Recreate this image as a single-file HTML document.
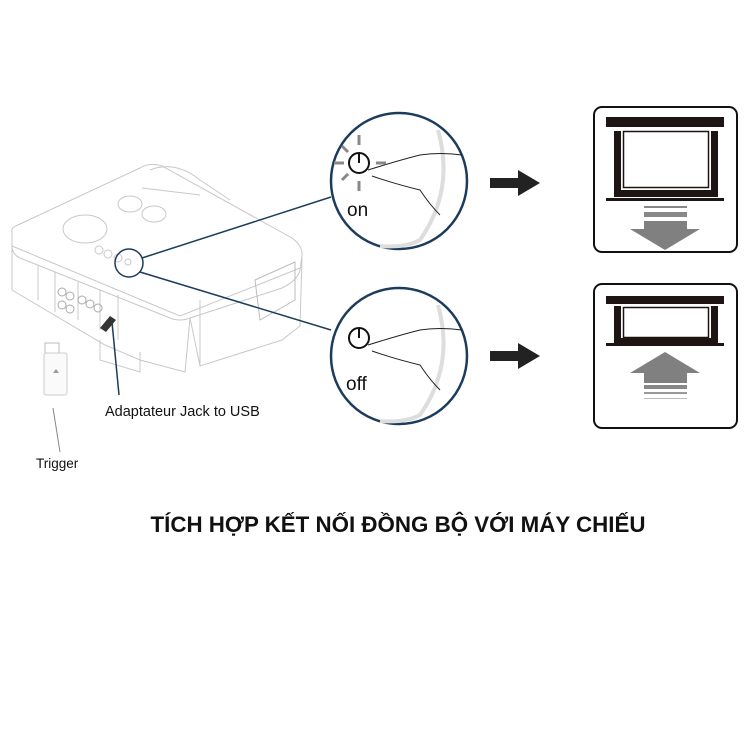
<!DOCTYPE html>
<html><head><meta charset="utf-8"><style>
body{margin:0;background:#fff;width:750px;height:750px;overflow:hidden}
svg{display:block}
text{font-family:"Liberation Sans",sans-serif}
</style></head><body>
<svg width="750" height="750" viewBox="0 0 750 750">
<!-- projector -->
<g fill="none" stroke="#c8c8c8" stroke-width="1">
<path d="M12 232 Q10 228 20 224 L140 168 Q150 162 162 166 L292 238 Q303 246 302 256 L300 270 Q298 280 282 288 L190 318 Q180 322 170 318 L20 258 Q12 254 12 246 Z"/>
<path d="M12 246 L12 290 L105 345 L140 360 L185 372 L190 318"/>
<path d="M190 318 L200 366 L282 340 L300 326 L302 258"/>
<path d="M200 300 L200 366"/>
<path d="M12 246 L180 316 L300 268"/>
<path d="M150 170 Q175 160 200 180 L230 200"/>
<path d="M142 188 L200 195"/>
<ellipse cx="85" cy="229" rx="22" ry="14"/>
<ellipse cx="130" cy="204" rx="12" ry="8"/><ellipse cx="154" cy="214" rx="12" ry="8"/>
<circle cx="99" cy="250" r="4"/><circle cx="108" cy="254" r="4"/><circle cx="118" cy="258" r="4"/><circle cx="128" cy="262" r="3"/>
<path d="M38 265 L38 300 M55 272 L55 312 M78 282 L78 320 M100 290 L100 330 M118 295 L118 340"/>
<path d="M255 280 L295 262 L295 300 L260 320 Z" stroke="#bbb"/>
<path d="M100 340 L100 360 L140 372 L140 352"/>
</g>
<g fill="none" stroke="#aaa"><circle cx="62" cy="292" r="4"/><circle cx="70" cy="296" r="4"/><circle cx="62" cy="305" r="4"/><circle cx="70" cy="309" r="4"/><circle cx="82" cy="300" r="4"/><circle cx="90" cy="304" r="4"/><circle cx="98" cy="308" r="4"/></g>
<!-- usb adapter -->
<path d="M100 328 L110 316 L116 320 L106 332 Z" fill="#333"/>
<line x1="112" y1="322" x2="119" y2="395" stroke="#1c3c5c" stroke-width="1.5"/>
<!-- trigger -->
<rect x="45" y="343" width="14" height="12" fill="#fff" stroke="#bbb"/>
<rect x="44" y="353" width="23" height="42" rx="2" fill="#fafafa" stroke="#ccc"/>
<path d="M53 373 L56 369 L59 373 Z" fill="#999"/>
<line x1="53" y1="408" x2="60" y2="452" stroke="#888" stroke-width="1"/>
<text x="36" y="468" font-size="13.5" fill="#111">Trigger</text>
<text x="105" y="416" font-size="14.5" fill="#111">Adaptateur Jack to USB</text>
<!-- connectors -->
<circle cx="129" cy="263" r="14" fill="none" stroke="#1c3c5c" stroke-width="1.5"/>
<line x1="142" y1="258" x2="331" y2="197" stroke="#1c3c5c" stroke-width="1.5"/>
<line x1="140" y1="272" x2="331" y2="330" stroke="#1c3c5c" stroke-width="1.5"/>
<!-- circles -->
<g>
<circle cx="399" cy="181" r="68" fill="#fff" stroke="#1c3c5c" stroke-width="2.5"/>
<path d="M438 130 Q455 190 420 240 Q405 248 380 246" fill="none" stroke="#ddd" stroke-width="4"/>
<circle cx="359" cy="163" r="10" fill="none" stroke="#111" stroke-width="2"/>
<line x1="359" y1="154" x2="359" y2="163" stroke="#111" stroke-width="2"/>
<path d="M368 170 Q400 160 420 155 Q440 152 462 155 M372 176 Q395 184 420 190 Q430 205 440 215" fill="none" stroke="#222"/>
<g stroke="#888" stroke-width="3"><line x1="359" y1="135" x2="359" y2="145"/><line x1="359" y1="181" x2="359" y2="191"/><line x1="334" y1="163" x2="344" y2="163"/><line x1="376" y1="163" x2="386" y2="163"/><line x1="342" y1="146" x2="348" y2="152"/><line x1="342" y1="180" x2="348" y2="174"/></g>
<text x="347" y="216" font-size="19" fill="#111">on</text>
</g>
<g>
<circle cx="399" cy="356" r="68" fill="#fff" stroke="#1c3c5c" stroke-width="2.5"/>
<path d="M438 305 Q455 365 420 415 Q405 423 380 421" fill="none" stroke="#ddd" stroke-width="4"/>
<circle cx="359" cy="338" r="10" fill="none" stroke="#111" stroke-width="2"/>
<line x1="359" y1="329" x2="359" y2="338" stroke="#111" stroke-width="2"/>
<path d="M368 345 Q400 335 420 330 Q440 327 462 330 M372 351 Q395 359 420 365 Q430 380 440 390" fill="none" stroke="#222"/>
<text x="346" y="390" font-size="19" fill="#111">off</text>
</g>
<!-- arrows -->
<path d="M490 178 L518 178 L518 170 L540 183 L518 196 L518 188 L490 188 Z" fill="#222"/>
<path d="M490 351 L518 351 L518 343 L540 356 L518 369 L518 361 L490 361 Z" fill="#222"/>
<!-- screen boxes -->
<rect x="594" y="107" width="143" height="145" rx="8" fill="#fff" stroke="#111" stroke-width="2"/>
<rect x="606" y="117" width="118" height="10" fill="#1e1414"/>
<rect x="614" y="131" width="7" height="66" fill="#1e1414"/>
<rect x="711" y="131" width="7" height="66" fill="#1e1414"/>
<rect x="614" y="190" width="104" height="7" fill="#1e1414"/>
<rect x="623.5" y="131.5" width="85" height="56" fill="#fff" stroke="#1e1414" stroke-width="1.5"/>
<rect x="606" y="198" width="118" height="3" fill="#1e1414"/>
<rect x="644" y="206" width="43" height="2" fill="#888"/>
<rect x="644" y="212" width="43" height="5" fill="#888"/>
<path d="M644 221 L687 221 L687 229 L700 229 L665 250 L630 229 L644 229 Z" fill="#808080"/>

<rect x="594" y="284" width="143" height="144" rx="8" fill="#fff" stroke="#111" stroke-width="2"/>
<rect x="606" y="296" width="118" height="8" fill="#1e1414"/>
<rect x="614" y="306" width="7" height="38" fill="#1e1414"/>
<rect x="711" y="306" width="7" height="38" fill="#1e1414"/>
<rect x="614" y="338" width="104" height="6" fill="#1e1414"/>
<rect x="623.5" y="307.5" width="85" height="30" fill="#fff" stroke="#1e1414" stroke-width="1.5"/>
<rect x="606" y="343" width="118" height="3" fill="#1e1414"/>
<path d="M665 352 L700 373 L687 373 L687 383 L644 383 L644 373 L630 373 Z" fill="#808080"/>
<rect x="644" y="385" width="43" height="4" fill="#888"/>
<rect x="644" y="392" width="43" height="2" fill="#999"/>
<rect x="644" y="398" width="43" height="1" fill="#bbb"/>
<!-- title -->
<text x="398" y="532" font-size="22" font-weight="bold" text-anchor="middle" fill="#111" textLength="495" lengthAdjust="spacingAndGlyphs">TÍCH HỢP KẾT NỐI ĐỒNG BỘ VỚI MÁY CHIẾU</text>
</svg>
</body></html>
